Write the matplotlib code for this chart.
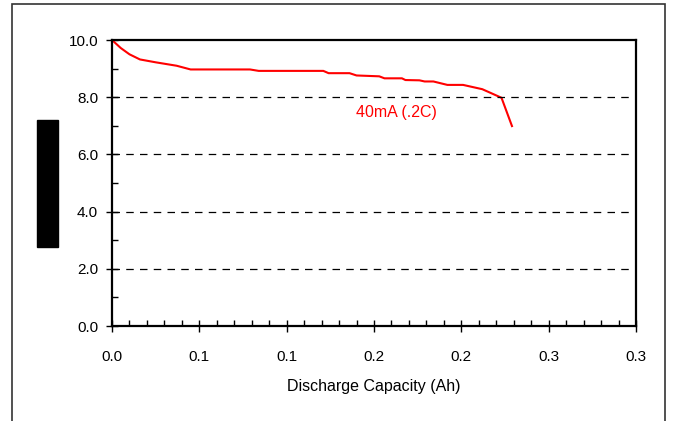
import matplotlib.pyplot as plt
from matplotlib.patches import Rectangle
from matplotlib.ticker import MultipleLocator, FormatStrFormatter

plt.rcParams['font.family'] = ['Liberation Sans', 'DejaVu Sans']

# discharge curve
capacity = [0.000, 0.005, 0.010, 0.016, 0.025, 0.034, 0.037, 0.045, 0.079,
            0.084, 0.121, 0.124, 0.136, 0.140, 0.153, 0.156, 0.166, 0.168,
            0.176, 0.179, 0.184, 0.192, 0.201, 0.212, 0.223, 0.229]
voltage = [10.0, 9.72, 9.50, 9.32, 9.22, 9.13, 9.10, 8.97, 8.97,
           8.92, 8.92, 8.84, 8.84, 8.76, 8.73, 8.66, 8.66, 8.60,
           8.59, 8.55, 8.55, 8.43, 8.43, 8.28, 7.98, 6.99]
series_label = '40mA (.2C)'

W, H = 673, 421
fig = plt.figure(figsize=(W / 100, H / 100), dpi=100)
ax = fig.add_axes([112 / W, 1 - 326 / H, (636 - 112) / W, (326 - 40) / H])

ax.plot(capacity, voltage, color='#ff0000', linewidth=1.5)
ax.text(0.163, 7.45, series_label, color='#ff0000', fontsize=11.5,
        ha='center', va='center')

ax.set_xlim(0, 0.3)
ax.set_ylim(0, 10)
ax.xaxis.set_major_locator(MultipleLocator(0.05))
ax.xaxis.set_minor_locator(MultipleLocator(0.01))
ax.yaxis.set_major_locator(MultipleLocator(2))
ax.yaxis.set_minor_locator(MultipleLocator(1))
ax.xaxis.set_major_formatter(FormatStrFormatter('%.1f'))
ax.yaxis.set_major_formatter(FormatStrFormatter('%.1f'))
ax.tick_params(which='major', direction='inout', length=8, width=1,
               labelsize=11, pad=6)
ax.tick_params(which='minor', direction='in', length=4, width=1)
ax.tick_params(axis='x', pad=13)

for y in [2, 4, 6, 8]:
    ax.axhline(y, color='black', linestyle=(0, (6, 5)), linewidth=0.9)

for s in ax.spines.values():
    s.set_linewidth(1.6)

ax.set_xlabel('Discharge Capacity (Ah)', fontsize=11.5, labelpad=11)

# blacked-out y axis title
fig.add_artist(Rectangle((37 / W, 1 - 247 / H), 21 / W, 127 / H,
                         transform=fig.transFigure, facecolor='black',
                         edgecolor='black'))
fig.text(47.5 / W, 1 - 183.5 / H, 'Voltage (V)', rotation=90, color='black',
         ha='center', va='center', fontsize=10)

# outer frame
fig.add_artist(Rectangle((12 / W, -0.05), (665 - 12) / W, 1.05 - 4 / H,
                         transform=fig.transFigure, fill=False,
                         edgecolor='#333333', linewidth=1.2))

fig.savefig('out.png', dpi=100)
